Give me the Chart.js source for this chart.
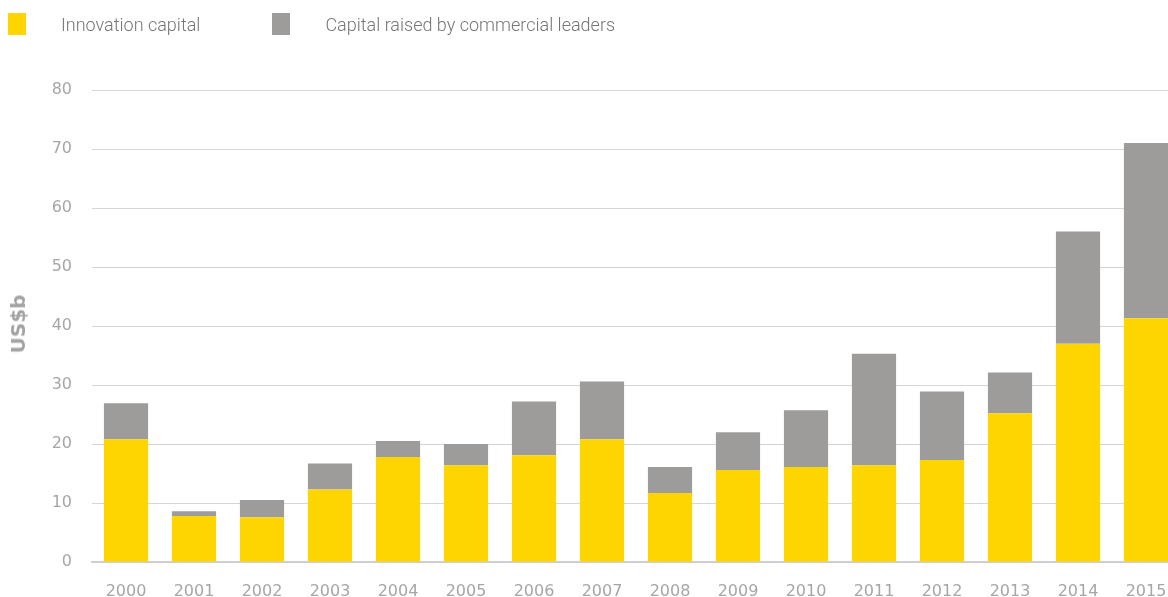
<!DOCTYPE html>
<html lang="en">
<head>
    <meta charset="UTF-8" />
    <title>Innovation capital vs commercial leaders</title>
    <script src="https://cdn.jsdelivr.net/npm/chart.js"></script>
    <style>
        html, body { margin: 0; padding: 0; background: #fff; overflow: hidden; }
        #wrap { position: relative; width: 1168px; height: 597px; overflow: hidden; }
        #legend { position: absolute; left: 8px; top: 13px; display: flex; font-family: Roboto, sans-serif; font-weight: 300; font-size: 18px; color: #757575; }
        #legend .item { display: flex; align-items: center; }
        #legend .box { width: 18px; height: 22px; margin-right: 35px; }
        #legend .item + .item { margin-left: 72px; }
        #ylabel { position: absolute; left: 18px; top: 324px; transform: translate(-50%, -50%) rotate(-90deg); font-family: "DejaVu Sans", sans-serif; font-weight: bold; font-size: 20px; color: #a3a3a3; }
        canvas { position: absolute; left: 0; top: 0; }
    </style>
</head>
<body>
<div id="wrap">
    <canvas id="chart" width="1180" height="597"></canvas>
    <div id="legend"></div>
    <div id="ylabel">US$b</div>
</div>
<script>
    const years = ['2000', '2001', '2002', '2003', '2004', '2005', '2006', '2007', '2008', '2009', '2010', '2011', '2012', '2013', '2014', '2015'];
    const innovationCapital = [20.8, 7.8, 7.6, 12.3, 17.8, 16.4, 18.1, 20.8, 11.7, 15.6, 16.1, 16.4, 17.3, 25.2, 37.0, 41.3];
    const commercialLeaders = [6.1, 0.8, 2.9, 4.4, 2.7, 3.6, 9.1, 9.8, 4.4, 6.4, 9.6, 18.9, 11.6, 6.9, 19.0, 29.7];
    const yTicks = [0, 10, 20, 30, 40, 50, 60, 70, 80];

    const datasets = [
        { label: 'Innovation capital', data: innovationCapital, backgroundColor: '#ffd500' },
        { label: 'Capital raised by commercial leaders', data: commercialLeaders, backgroundColor: '#9d9c9a' }
    ];

    // html legend built from the datasets
    const legend = document.getElementById('legend');
    datasets.forEach(ds => {
        const item = document.createElement('div');
        item.className = 'item';
        item.innerHTML = `<span class="box" style="background:${ds.backgroundColor}"></span><span>${ds.label}</span>`;
        legend.appendChild(item);
    });

    const tickFont = { family: '"DejaVu Sans", sans-serif', size: 16 };

    new Chart(document.getElementById('chart').getContext('2d'), {
        type: 'bar',
        data: {
            labels: years,
            datasets: datasets.map(ds => ({ ...ds, categoryPercentage: 1, barPercentage: 0.65 }))
        },
        options: {
            responsive: false,
            animation: false,
            layout: { padding: { top: 90, left: 0, right: 0, bottom: 0 } },
            plugins: { legend: { display: false }, tooltip: { enabled: false } },
            scales: {
                x: {
                    stacked: true,
                    grid: { display: false },
                    border: { color: '#cfcfcf', width: 2 },
                    ticks: { color: '#a6a6a6', font: tickFont, padding: 12, maxRotation: 0 },
                    afterFit: s => { s.height = 35; }
                },
                y: {
                    stacked: true,
                    min: 0,
                    max: 80,
                    afterBuildTicks: s => { s.ticks = yTicks.map(v => ({ value: v })); },
                    grid: { color: '#d6d6d6', drawTicks: false },
                    border: { display: false },
                    ticks: { color: '#a6a6a6', font: tickFont, padding: 20 },
                    afterFit: s => { s.width = 92; }
                }
            }
        }
    });
</script>
</body>
</html>
